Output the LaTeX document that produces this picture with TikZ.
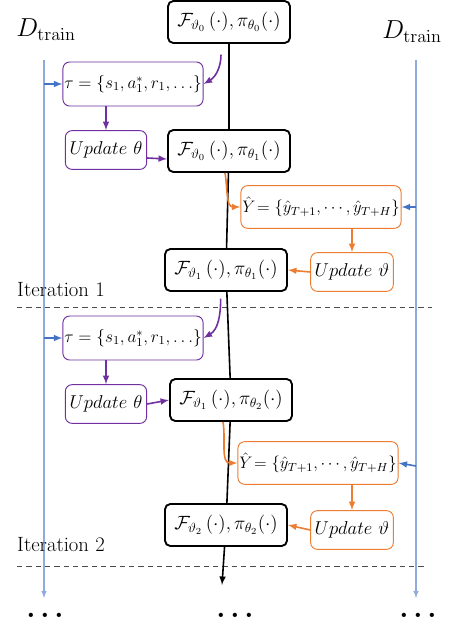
\documentclass[tikz,border=0pt]{standalone}
\usepackage{fix-cm}
\usepackage{tikz}
\usetikzlibrary{positioning}
\definecolor{purp}{RGB}{112,48,160}
\definecolor{orng}{RGB}{237,125,49}
\definecolor{bluedark}{RGB}{68,114,196}
\definecolor{bluelight}{RGB}{143,170,220}
\tikzset{
modelbox/.style={draw=black,line width=1.4pt,rounded corners=4pt,fill=white,minimum width=91.5pt,minimum height=31.5pt,inner sep=1pt,font=\fontsize{14.4}{16}\selectfont},
trajbox/.style={draw=purp,line width=0.7pt,rounded corners=5pt,fill=white,minimum width=105pt,minimum height=33pt,inner sep=1pt,font=\fontsize{13}{15}\selectfont},
updthbox/.style={draw=purp,line width=0.7pt,rounded corners=5pt,fill=white,minimum width=61pt,minimum height=29pt,inner sep=1pt,font=\fontsize{14}{16}\selectfont},
predbox/.style={draw=orng,line width=0.7pt,rounded corners=5pt,fill=white,minimum width=120pt,minimum height=32pt,inner sep=1pt,font=\fontsize{12.5}{14}\selectfont},
updvbox/.style={draw=orng,line width=0.7pt,rounded corners=5pt,fill=white,minimum width=62pt,minimum height=29pt,inner sep=1pt,font=\fontsize{14}{16}\selectfont},
itertext/.style={font=\fontsize{15.5}{18}\selectfont},
traintext/.style={font=\fontsize{19.5}{22}\selectfont},
dotstext/.style={font=\fontsize{22}{24}\selectfont\bfseries},
modelline/.style={black,line width=1.2pt},
purparrow/.style={purp,line width=1.2pt,-latex},
orngarrow/.style={orng,line width=1.2pt,-latex},
bluearrow/.style={bluedark,line width=1.2pt,-latex},
trainline/.style={bluelight,line width=0.8pt},
iterline/.style={black!70,line width=0.7pt,dash pattern=on 4pt off 3pt}
}
\begin{document}
\begin{tikzpicture}[x=0.75pt,y=-0.75pt]
\useasboundingbox (0,0) rectangle (461,629);

\node[traintext] (trainL) at (46,30) {$D_{\mathrm{train}}$};
\node[traintext] (trainR) at (412,32) {$D_{\mathrm{train}}$};
\coordinate (Ltop) at (44,60);
\coordinate (Lbot) at (44,598);
\coordinate (Rtop) at (416,60);
\coordinate (Rbot) at (416,598);
\draw[trainline,-latex] (Ltop) -- (Lbot);
\draw[trainline,-latex] (Rtop) -- (Rbot);

% iteration 1
\node[modelbox] (F0) at (229,22) {$\mathcal{F}_{\vartheta_0}\,(\cdot),\pi_{\theta_0}(\cdot)$};
\node[trajbox] (tau1) at (133,84) {$\tau=\{s_1,a_1^*,r_1,\ldots\}$};
\node[updthbox] (updth1) at (106,150) {$Update\ \theta$};
\node[modelbox] (F1) at (229,151) {$\mathcal{F}_{\vartheta_0}\,(\cdot),\pi_{\theta_1}(\cdot)$};
\node[predbox] (Y1) at (321,207) {$\hat{Y}\!=\{\hat{y}_{T+1},\cdots,\hat{y}_{T+H}\}$};
\node[updvbox] (updv1) at (352,272) {$Update\ \vartheta$};
\node[modelbox] (F2) at (226,270) {$\mathcal{F}_{\vartheta_1}\,(\cdot),\pi_{\theta_1}(\cdot)$};
\node[itertext] (it1) at (61,290) {Iteration 1};
\draw[iterline] (17,307) -- (432,307);

% iteration 2
\node[trajbox] (tau2) at (133,338) {$\tau=\{s_1,a_1^*,r_1,\ldots\}$};
\node[updthbox] (updth2) at (106,404) {$Update\ \theta$};
\node[modelbox] (F3) at (231,400) {$\mathcal{F}_{\vartheta_1}\,(\cdot),\pi_{\theta_2}(\cdot)$};
\node[predbox] (Y2) at (318,463) {$\hat{Y}\!=\{\hat{y}_{T+1},\cdots,\hat{y}_{T+H}\}$};
\node[updvbox] (updv2) at (352,530) {$Update\ \vartheta$};
\node[modelbox] (F4) at (226,525) {$\mathcal{F}_{\vartheta_2}\,(\cdot),\pi_{\theta_2}(\cdot)$};
\node[itertext] (it2) at (61,545) {Iteration 2};
\draw[iterline] (17,566) -- (425,566);

\coordinate (Fend) at (222,585);
\draw[modelline] (F0) -- (F1);
\draw[modelline] (F1) -- (F2);
\draw[modelline] (F2) -- (F3);
\draw[modelline] (F3) -- (F4);
\draw[modelline,-latex] (F4) -- (Fend);

\coordinate (L1) at (44,84);
\coordinate (L2) at (44,338);
\coordinate (R1) at (416,207);
\coordinate (R2) at (416,466);
\draw[bluearrow] (L1) -- (tau1.west);
\draw[bluearrow] (L2) -- (tau2.west);
\draw[bluearrow] (R1) -- (Y1.east);
\draw[bluearrow] (R2) -- (Y2.east);

\draw[purparrow] ([xshift=-6pt,yshift=-8pt]F0.south) to[out=-90,in=30] (tau1.east);
\draw[purparrow] (updth1.north |- tau1.south) -- (updth1.north);
\draw[purparrow] ([yshift=-6pt]updth1.east) -- ([yshift=-6pt]F1.west);
\draw[orngarrow] ([xshift=-3pt]F1.south) to[out=-80,in=180] (Y1.west);
\draw[orngarrow] (updv1.north |- Y1.south) -- (updv1.north);
\draw[orngarrow] (updv1.west) -- (F2.east);

\draw[purparrow] ([xshift=-4pt,yshift=-5pt]F2.south) to[out=-90,in=30] (tau2.east);
\draw[purparrow] (updth2.north |- tau2.south) -- (updth2.north);
\draw[purparrow] (updth2.east) -- (F3.west);
\draw[orngarrow] ([xshift=-6pt]F3.south) to[out=-80,in=180] (Y2.west);
\draw[orngarrow] (updv2.north |- Y2.south) -- (updv2.north);
\draw[orngarrow] (updv2.west) -- (F4.east);

\node[dotstext] (dotsL) at (45,615) {.\,.\,.};
\node[dotstext] (dotsM) at (235,615) {.\,.\,.};
\node[dotstext] (dotsR) at (418,615) {.\,.\,.};

\end{tikzpicture}
\end{document}
